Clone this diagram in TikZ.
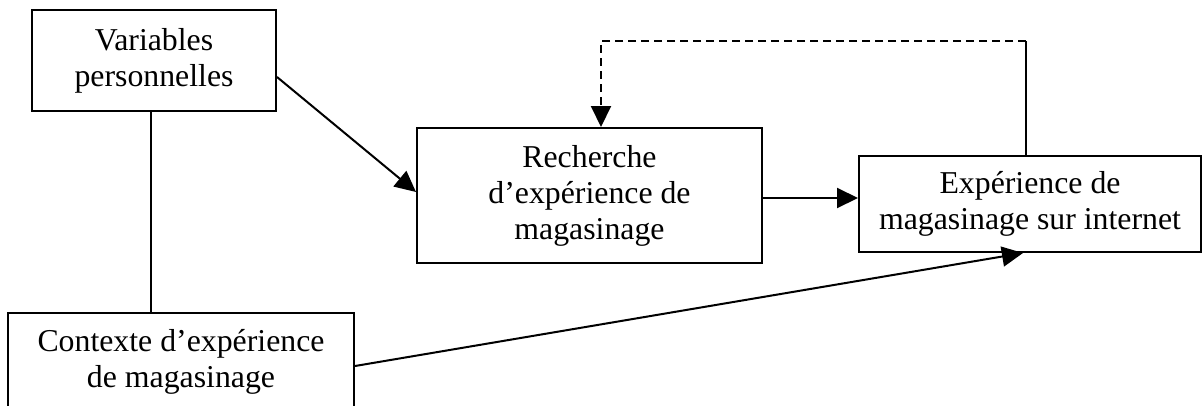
\documentclass[tikz,border=0pt]{standalone}
\usepackage{fontspec}
\setmainfont{Liberation Serif}
\usetikzlibrary{arrows.meta,calc}
\begin{document}
\begin{tikzpicture}[x=1pt,y=-1pt,
  box/.style={draw,line width=2pt,align=center,inner sep=0pt,
    font=\fontsize{31.8}{36}\selectfont},
  conn/.style={line width=2pt},
  arr/.style={conn,-{Triangle[length=21pt,width=20pt]}},
  dsh/.style={dash pattern=on 8pt off 5pt}]
\clip (0,0) rectangle (1202,405);
\fill[white] (0,0) rectangle (1202,405);
\node[box,minimum width=244pt,minimum height=101pt] (v1) at (154,60.5) {Variables\\personnelles};
\node[box,minimum width=345pt,minimum height=135pt] (v2) at (589.5,195.5) {Recherche\\d’expérience de\\magasinage};
\node[box,minimum width=342pt,minimum height=96pt] (v3) at (1030,204) {Expérience de\\magasinage sur internet};
\node[box,minimum width=346pt,minimum height=97pt] (v4) at (181,361.5) {Contexte d’expérience\\de magasinage};
\draw[arr] ([yshift=-16.5pt]v1.east) -- ([yshift=3.5pt]v2.west);
\draw[arr] ([yshift=-2.5pt]v2.east) -- ([yshift=-2.5pt]v2.east -| v3.west);
\draw[conn] ([xshift=-4pt]v3.north) -- ++(0,-114) coordinate (c1);
\coordinate (c2) at ([xshift=11.5pt]v2.north);
\draw[arr,dsh] (c1) -- (c1 -| c2) -- (c2);
\draw[conn] ([xshift=-3.3pt]v1.south) -- ([xshift=-3.3pt]v1.south |- v4.north);
\draw[arr] ([yshift=-4.5pt]v4.east) -- ([xshift=-7pt]v3.south);
\end{tikzpicture}
\end{document}
